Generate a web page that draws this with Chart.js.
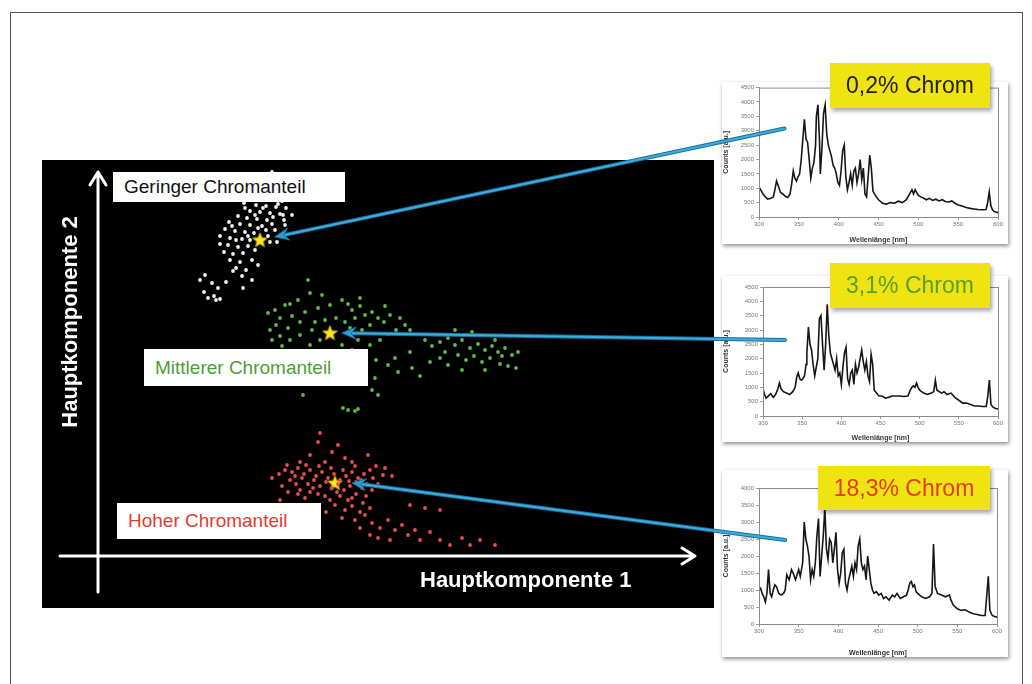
<!DOCTYPE html>
<html>
<head>
<meta charset="utf-8">
<script src="https://cdn.jsdelivr.net/npm/chart.js@4.4.0/dist/chart.umd.min.js"></script>
<style>
body { margin: 0; background: #fff; font-family: "Liberation Sans", Arial, sans-serif; }
#page { position: relative; width: 1032px; height: 684px; overflow: hidden; }
.abs { position: absolute; }
#frame { left: 10px; top: 12px; width: 1011px; height: 720px; border: 1px solid #555; }
#pca { left: 42px; top: 160px; width: 672px; height: 448px; background: #000; }
.axtitle { color: #fff; font-weight: bold; font-size: 22px; white-space: nowrap; }
.tag { background: #fff; font-size: 19px; padding-left: 11px; box-sizing: border-box; white-space: nowrap; }
.spec { background: #fff; box-shadow: 1px 2px 4px rgba(0,0,0,.45); }
.chrom { background: #efe312; box-shadow: 2px 3px 4px rgba(0,0,0,.35); font-size: 23px; text-align: center; white-space: nowrap; }
#overlay { left: 0; top: 0; }
</style>
</head>
<body>
<div id="page">
  <div id="frame" class="abs"></div>
  <div id="pca" class="abs"><canvas id="pcaCanvas" width="672" height="448"></canvas></div>
  <div class="abs axtitle" style="left:-60px;top:309px;width:260px;height:26px;line-height:26px;text-align:center;transform:rotate(-90deg);">Hauptkomponente 2</div>
  <div class="abs axtitle" style="left:420px;top:567px;line-height:26px;">Hauptkomponente 1</div>
  <div class="abs tag" style="left:113px;top:172px;width:232px;height:30px;line-height:30px;color:#111;">Geringer Chromanteil</div>
  <div class="abs tag" style="left:144px;top:349px;width:224px;height:37px;line-height:37px;color:#4f9c3a;">Mittlerer Chromanteil</div>
  <div class="abs tag" style="left:117px;top:503px;width:204px;height:36px;line-height:36px;color:#e23b30;">Hoher Chromanteil</div>

  <div class="abs spec" style="left:722px;top:82px;width:286px;height:162px;"><canvas id="spec1" width="286" height="162"></canvas></div>
  <div class="abs spec" style="left:722px;top:276px;width:286px;height:166px;"><canvas id="spec2" width="286" height="166"></canvas></div>
  <div class="abs spec" style="left:722px;top:470px;width:286px;height:187px;"><canvas id="spec3" width="286" height="187"></canvas></div>

  <canvas id="overlay" class="abs" width="1032" height="684"></canvas>

  <div class="abs chrom" style="left:830px;top:63px;width:160px;height:45px;line-height:45px;color:#222;">0,2% Chrom</div>
  <div class="abs chrom" style="left:830px;top:263px;width:160px;height:45px;line-height:45px;color:#5a9e2c;">3,1% Chrom</div>
  <div class="abs chrom" style="left:818px;top:466px;width:172px;height:44px;line-height:44px;color:#e43b1e;">18,3% Chrom</div>
</div>

<script>
// Hauptkomponenten (PCA-Scores) je Gruppe
const geringPC1 = [16.4,17.2,18.0,15.7,16.7,17.6,18.6,15.0,16.0,17.0,18.2,19.2,15.4,16.4,17.4,18.4,14.6,15.8,16.8,17.8,18.8,15.2,16.2,17.2,18.2,14.0,14.9,15.9,16.9,13.1,14.2,15.2,16.4,17.4,12.7,13.7,14.7,15.6,16.8,12.2,13.2,14.4,15.2,17.2,17.9,13.0,14.0,15.0,12.6,13.5,14.5,15.7,13.2,14.2,15.4,13.8,14.8,16.0,14.4,12.8,14.5,10.7,10.2,11.4,12.0,10.6,11.6,12.2,11.8,11.0,19.7,20.2,19.0,17.4,18.5,17.7,18.7,19.4,
  14.7,15.7,16.5,17.5,18.6,16.0,15.0,13.8,18.0,19.0,17.0,13.4,12.2,13.5,15.4];
const geringPC2 = [37.8,37.6,37.4,37.3,37.0,36.8,37.0,36.6,36.4,36.3,36.2,36.4,35.8,35.7,35.6,35.5,35.3,35.1,35.0,34.9,34.8,34.5,34.4,34.3,34.2,34.0,33.8,33.7,33.6,33.4,33.2,33.1,33.0,33.2,32.7,32.5,32.4,32.3,32.6,32.0,31.8,31.7,31.6,31.4,31.4,31.1,30.9,31.0,30.4,30.2,30.3,30.6,29.6,29.4,29.6,28.8,28.6,29.1,28.0,27.4,26.8,28.1,27.6,27.3,26.8,26.4,26.0,25.7,25.6,25.8,35.9,36.6,38.0,38.4,34.1,32.6,33.1,34.1,
  34.8,34.1,34.8,33.9,33.6,32.8,32.0,31.6,35.2,35.6,32.0,33.0,31.2,28.5,27.6];

const mittelPC1 = [21.0,21.2,20.0,18.7,17.7,17.0,18.2,19.4,20.7,22.0,23.2,24.4,25.0,25.4,26.2,23.8,24.7,25.7,26.7,27.4,28.0,27.2,26.4,25.2,22.7,21.7,20.2,19.0,17.8,17.2,18.2,19.2,20.2,21.4,22.2,21.2,18.4,17.4,28.6,29.2,30.2,30.7,29.8,29.0,31.2,28.2,27.2,26.0,25.4,24.4,19.2,22.4,26.2,28.7,
  29.7,29.0,27.8,26.6,25.9,27.7,30.0,31.2,31.4,33.2,32.2,34.2,
  32.7,33.4,34.2,35.0,35.7,36.4,37.2,38.0,38.7,39.4,40.0,40.7,41.4,42.0,34.7,36.0,36.8,37.6,38.4,39.2,40.2,41.0,41.8,37.4,35.7,39.7,36.4,35.0,38.7,40.4,
  20.5,24.5,25.0,25.7,26.0,28.0,27.4];
const mittelPC2 = [27.6,26.3,25.6,25.1,24.6,24.3,23.8,24.0,24.4,24.8,25.1,25.6,25.2,24.6,25.0,23.8,23.4,23.8,24.1,24.4,23.8,23.1,22.6,22.8,23.6,23.4,23.4,22.8,23.1,22.6,22.0,21.6,22.1,22.6,21.6,21.1,21.0,21.6,23.4,24.1,23.8,23.1,22.6,22.2,22.6,21.6,21.1,21.6,20.6,21.1,25.2,26.1,25.8,25.0,
  19.8,19.1,19.6,18.8,18.4,17.8,18.4,20.4,18.8,19.4,18.0,19.8,
  21.6,21.0,21.4,21.8,21.1,21.6,20.8,21.2,20.6,21.0,20.4,20.8,20.1,20.4,20.4,20.1,19.6,20.0,19.4,19.8,19.2,19.0,18.8,22.4,22.6,21.6,18.6,19.1,18.6,20.0,
  16.1,14.8,14.6,14.5,14.7,16.1,16.6];

const hochPC1 = [22.2,22.0,23.4,24.0,21.2,24.7,25.4,20.2,22.7,18.7,19.4,20.0,20.6,21.2,21.8,22.4,23.0,23.6,24.2,24.8,25.4,26.0,26.6,27.2,27.8,19.2,19.8,20.4,21.0,21.6,22.2,22.8,23.4,24.0,24.6,25.2,25.8,26.4,20.2,21.2,22.0,18.4,19.0,20.7,22.7,24.2,25.0,25.8,26.8,27.4,28.0,23.7,24.7,25.4,26.2,24.4,25.7,26.7,22.8,21.7,
  27.4,28.2,29.0,29.7,30.4,31.0,31.7,32.2,29.2,28.0,33.2,34.2,35.2,36.4,37.2,38.2,39.7,31.2,32.7,34.2,26.2,27.2,18.2,17.4,28.7,29.4,27.0,
  18.9,19.7,20.8,21.5,22.1,23.3,23.9,24.5,25.1,25.7,26.3,26.9,27.5,28.5,18.1,20.0,23.2,25.4,26.5,27.2];
const hochPC2 = [12.3,11.4,10.4,11.1,10.1,9.8,9.4,9.4,9.4,8.6,8.4,8.8,8.2,8.6,8.0,8.4,7.8,8.2,7.6,8.0,8.4,7.8,8.2,8.6,9.0,7.6,7.2,7.8,7.2,7.6,7.0,7.4,6.8,7.2,6.6,7.0,7.4,6.8,6.6,6.4,6.2,7.0,6.4,5.8,6.0,6.0,5.6,6.2,6.0,6.6,7.2,5.1,4.6,5.0,4.4,3.8,3.6,4.1,4.4,5.1,
  3.3,2.8,3.6,2.6,3.1,2.1,2.6,1.6,1.6,1.8,2.4,1.6,1.1,1.8,1.1,1.6,1.1,5.1,4.8,4.6,2.8,2.1,5.6,7.8,8.8,8.0,10.1,
  9.1,8.0,9.1,6.8,9.0,8.8,6.4,8.6,7.5,9.0,7.6,7.2,7.8,8.1,8.2,6.2,5.6,5.8,5.3,4.8];

// ausgewählte Proben (Sterne): gering, mittel, hoch
const starPC1 = [16.2, 23.2, 23.7];
const starPC2 = [31.6, 22.3, 7.3];

// Spektren: Wellenlänge [nm] und Counts
const spec1Nm = [300,302,305,308,311,315,318,320,322,324,327,330,333,336,339,341,343,345,347,349,351,353,355,357,359,361,363,365,367,369,371,372,374,376,377,379,381,383,385,387,389,391,393,395,397,399,401,403,405,407,409,411,413,415,417,419,421,423,425,427,429,431,433,435,437,439,441,443,446,450,455,460,465,470,475,480,485,488,490,492,494,496,498,500,503,507,510,514,518,522,526,530,534,538,542,546,550,555,560,565,570,575,580,585,587,589,591,593,596,600];
const spec1Counts = [1050,950,800,700,620,650,700,950,1250,1100,850,800,720,680,800,1150,1600,1350,1250,1400,1500,2000,2700,3400,2700,2600,2000,1350,1700,1900,2500,3500,3900,2600,1500,2400,3600,3900,2900,2500,2300,2100,1800,1700,1500,1200,1100,1600,2300,2500,1400,950,1200,1500,1100,1600,1700,1200,1500,2000,1300,1700,800,700,1400,2150,1700,900,750,600,480,450,500,480,550,500,600,750,850,950,800,950,850,750,700,650,600,650,580,620,560,600,540,520,560,480,420,380,330,300,280,260,250,260,500,870,400,250,180,150];

const spec2Nm = [300,302,304,307,310,313,316,319,321,323,326,330,334,338,341,343,345,347,349,351,353,355,356,358,360,362,364,366,368,370,372,374,376,378,380,382,384,386,388,390,392,394,396,398,400,402,404,406,408,410,412,414,416,418,420,422,424,426,428,430,432,434,436,438,440,442,445,448,452,456,460,465,470,475,480,485,488,490,492,494,496,498,500,505,510,515,518,520,522,525,528,531,535,540,545,550,555,560,565,570,575,580,585,587,589,591,594,597,600];
const spec2Counts = [950,750,620,700,780,650,750,950,1150,950,850,800,750,850,1000,1350,1500,1300,1250,1300,1400,1800,2200,3100,2500,2300,1800,1400,1700,2000,3400,3500,2500,1600,2500,3900,2800,2200,2000,1800,1600,2000,1400,1500,1100,1700,2200,2400,1300,1100,1500,1600,1100,1800,1500,1700,2000,2300,1900,1600,1900,1400,1200,2150,1800,900,800,700,700,620,650,700,700,700,680,700,900,1000,1050,1000,1150,1000,900,800,750,800,850,1250,900,850,800,850,750,800,650,550,450,450,400,350,350,330,330,700,1250,400,300,260,250];

const spec3Nm = [300,302,304,306,308,310,312,314,316,318,320,322,325,328,331,333,335,338,341,343,346,348,350,352,355,357,359,361,363,365,367,369,371,373,375,377,379,381,383,385,387,389,391,393,395,397,399,401,403,405,407,409,411,413,415,417,419,421,423,425,427,429,431,433,435,437,439,441,443,445,448,451,454,457,460,464,468,471,474,478,482,486,488,490,492,494,496,498,500,505,510,515,518,520,522,525,530,535,540,542,545,550,555,560,565,570,575,580,585,587,589,591,594,597,600];
const spec3Counts = [1000,1050,900,800,650,900,1600,900,800,1000,1150,1100,900,850,900,1000,1450,1300,1600,1500,1300,1450,1600,1400,1800,3000,2500,2300,2000,1300,1600,1400,1800,2600,3100,1400,2000,2600,3400,2200,1900,2500,2400,1800,2200,2700,1600,1200,1500,2100,2200,1200,1000,1300,1500,1700,1400,1800,1600,2300,2500,1800,1600,1700,1300,2000,1600,1200,1000,900,950,850,900,750,800,700,850,800,900,750,800,850,1000,1200,1250,1100,1150,950,900,800,750,800,900,2350,1100,900,850,800,850,700,550,450,400,420,350,300,280,250,250,800,1400,400,250,220,200];

Chart.defaults.font.family = '"Liberation Sans", Arial, sans-serif';

function pairs(xs, ys) {
    return xs.map((v, i) => ({ x: v, y: ys[i] }));
}

// gelber Stern als Punktsymbol
const starImg = document.createElement('canvas');
starImg.width = 17; starImg.height = 17;
(function() {
    const c = starImg.getContext('2d');
    c.beginPath();
    for (let i = 0; i < 10; i++) {
        const r = i % 2 === 0 ? 8 : 3.4;
        const a = -Math.PI / 2 + i * Math.PI / 5;
        c.lineTo(8.5 + r * Math.cos(a), 9 + r * Math.sin(a));
    }
    c.closePath();
    c.fillStyle = '#f9e81e';
    c.fill();
    c.strokeStyle = '#d9b400';
    c.lineWidth = 0.6;
    c.stroke();
})();

// weiße Achsenpfeile im PCA-Plot
const axisArrows = {
    id: 'axisArrows',
    beforeDatasetsDraw(chart) {
        const ctx = chart.ctx, sx = chart.scales.x, sy = chart.scales.y;
        const x0 = sx.getPixelForValue(0), y0 = sy.getPixelForValue(0);
        const yb = sy.getPixelForValue(-3.6), yt = sy.getPixelForValue(38.4);
        const xl = sx.getPixelForValue(-3.8), xr = sx.getPixelForValue(59.7);
        ctx.save();
        ctx.strokeStyle = '#fff';
        ctx.lineWidth = 3;
        ctx.lineCap = 'round';
        ctx.lineJoin = 'round';
        ctx.beginPath();
        ctx.moveTo(x0, yb); ctx.lineTo(x0, yt);
        ctx.moveTo(x0 - 8, yt + 13); ctx.lineTo(x0, yt); ctx.lineTo(x0 + 8, yt + 13);
        ctx.moveTo(xl, y0); ctx.lineTo(xr, y0);
        ctx.moveTo(xr - 13, y0 - 8); ctx.lineTo(xr, y0); ctx.lineTo(xr - 13, y0 + 8);
        ctx.stroke();
        ctx.restore();
    }
};

const pcaChart = new Chart(document.getElementById('pcaCanvas'), {
    type: 'scatter',
    data: {
        datasets: [
            { data: pairs(geringPC1, geringPC2), backgroundColor: '#f2f2f2', borderWidth: 0, pointRadius: 1.9 },
            { data: pairs(mittelPC1, mittelPC2), backgroundColor: '#5fbb47', borderWidth: 0, pointRadius: 1.9 },
            { data: pairs(hochPC1, hochPC2), backgroundColor: '#ea4d4a', borderWidth: 0, pointRadius: 1.9 },
            { data: pairs(starPC1, starPC2), pointStyle: starImg, pointRadius: 8 }
        ]
    },
    options: {
        responsive: false,
        animation: false,
        events: [],
        layout: { padding: 0, autoPadding: false },
        plugins: { legend: { display: false }, tooltip: { enabled: false } },
        scales: {
            x: { type: 'linear', display: false, min: -5.6, max: 61.6 },
            y: { type: 'linear', display: false, min: -5.2, max: 39.6 }
        }
    },
    plugins: [axisArrows]
});

// Rahmen um die Plotfläche der Spektren
const plotFrame = {
    id: 'plotFrame',
    afterDraw(chart) {
        const a = chart.chartArea, ctx = chart.ctx;
        ctx.save();
        ctx.strokeStyle = '#8a8a8a';
        ctx.lineWidth = 1;
        ctx.strokeRect(a.left + 0.5, a.top + 0.5, a.right - a.left, a.bottom - a.top);
        ctx.restore();
    }
};

function specChart(id, nm, counts, yMax, pad) {
    return new Chart(document.getElementById(id), {
        type: 'line',
        data: {
            datasets: [{
                data: pairs(nm, counts),
                borderColor: '#161616',
                borderWidth: 1.6,
                pointRadius: 0,
                tension: 0
            }]
        },
        options: {
            responsive: false,
            animation: false,
            events: [],
            layout: { padding: { top: pad.top, right: pad.right, left: 0, bottom: 0 } },
            plugins: { legend: { display: false }, tooltip: { enabled: false } },
            scales: {
                x: {
                    type: 'linear', min: 300, max: 600,
                    ticks: { stepSize: 50, font: { size: 6 }, color: '#777', padding: 1, maxRotation: 0, callback: v => String(v) },
                    grid: { drawOnChartArea: false, tickLength: 3, color: '#999' },
                    border: { color: '#888' },
                    title: { display: true, text: 'Wellenlänge [nm]', font: { size: 7, weight: 'bold' }, color: '#333', padding: 0 },
                    afterFit(s) { s.height = pad.bottom; }
                },
                y: {
                    type: 'linear', min: 0, max: yMax,
                    ticks: { stepSize: 500, font: { size: 6 }, color: '#777', padding: 2, callback: v => String(v) },
                    grid: { drawOnChartArea: false, tickLength: 3, color: '#999' },
                    border: { color: '#888' },
                    title: { display: true, text: 'Counts [a.u.]', font: { size: 7, weight: 'bold' }, color: '#333', padding: 0 },
                    afterFit(s) { s.width = pad.left; }
                }
            }
        },
        plugins: [plotFrame]
    });
}

const spec1 = specChart('spec1', spec1Nm, spec1Counts, 4500, { left: 37, right: 10, top: 5, bottom: 27 });
const spec2 = specChart('spec2', spec2Nm, spec2Counts, 4500, { left: 41, right: 10, top: 11, bottom: 26 });
const spec3 = specChart('spec3', spec3Nm, spec3Counts, 4000, { left: 37, right: 11, top: 18, bottom: 33 });

// blaue Pfeile: Spektrum -> Probe im PCA-Plot
const arrowSpec = [spec1, spec2, spec3];
const arrowNm = [332, 328, 333];
const arrowCounts = [3080, 2650, 2470];
const arrowPC1 = [17.7, 24.4, 25.4];
const arrowPC2 = [31.9, 22.3, 7.3];

function pagePos(chart, xv, yv) {
    const r = chart.canvas.getBoundingClientRect();
    return [r.left + chart.scales.x.getPixelForValue(xv), r.top + chart.scales.y.getPixelForValue(yv)];
}

const octx = document.getElementById('overlay').getContext('2d');
arrowSpec.forEach((ch, i) => {
    const [sx, sy] = pagePos(ch, arrowNm[i], arrowCounts[i]);
    const [tx, ty] = pagePos(pcaChart, arrowPC1[i], arrowPC2[i]);
    const ang = Math.atan2(ty - sy, tx - sx);
    const hl = 14, hw = 6;
    const bx = tx - hl * Math.cos(ang), by = ty - hl * Math.sin(ang);
    octx.save();
    octx.lineCap = 'round';
    octx.strokeStyle = '#1a6e98';
    octx.lineWidth = 4;
    octx.beginPath(); octx.moveTo(sx, sy); octx.lineTo(bx + 4 * Math.cos(ang), by + 4 * Math.sin(ang)); octx.stroke();
    octx.strokeStyle = '#3aaee0';
    octx.lineWidth = 2;
    octx.beginPath(); octx.moveTo(sx, sy); octx.lineTo(bx + 4 * Math.cos(ang), by + 4 * Math.sin(ang)); octx.stroke();
    octx.beginPath();
    octx.moveTo(tx, ty);
    octx.lineTo(bx + hw * Math.sin(ang), by - hw * Math.cos(ang));
    octx.lineTo(bx + 5 * Math.cos(ang), by + 5 * Math.sin(ang));
    octx.lineTo(bx - hw * Math.sin(ang), by + hw * Math.cos(ang));
    octx.closePath();
    octx.fillStyle = '#2c9ed4';
    octx.fill();
    octx.strokeStyle = '#1a6e98';
    octx.lineWidth = 1;
    octx.stroke();
    octx.restore();
});
</script>
</body>
</html>
